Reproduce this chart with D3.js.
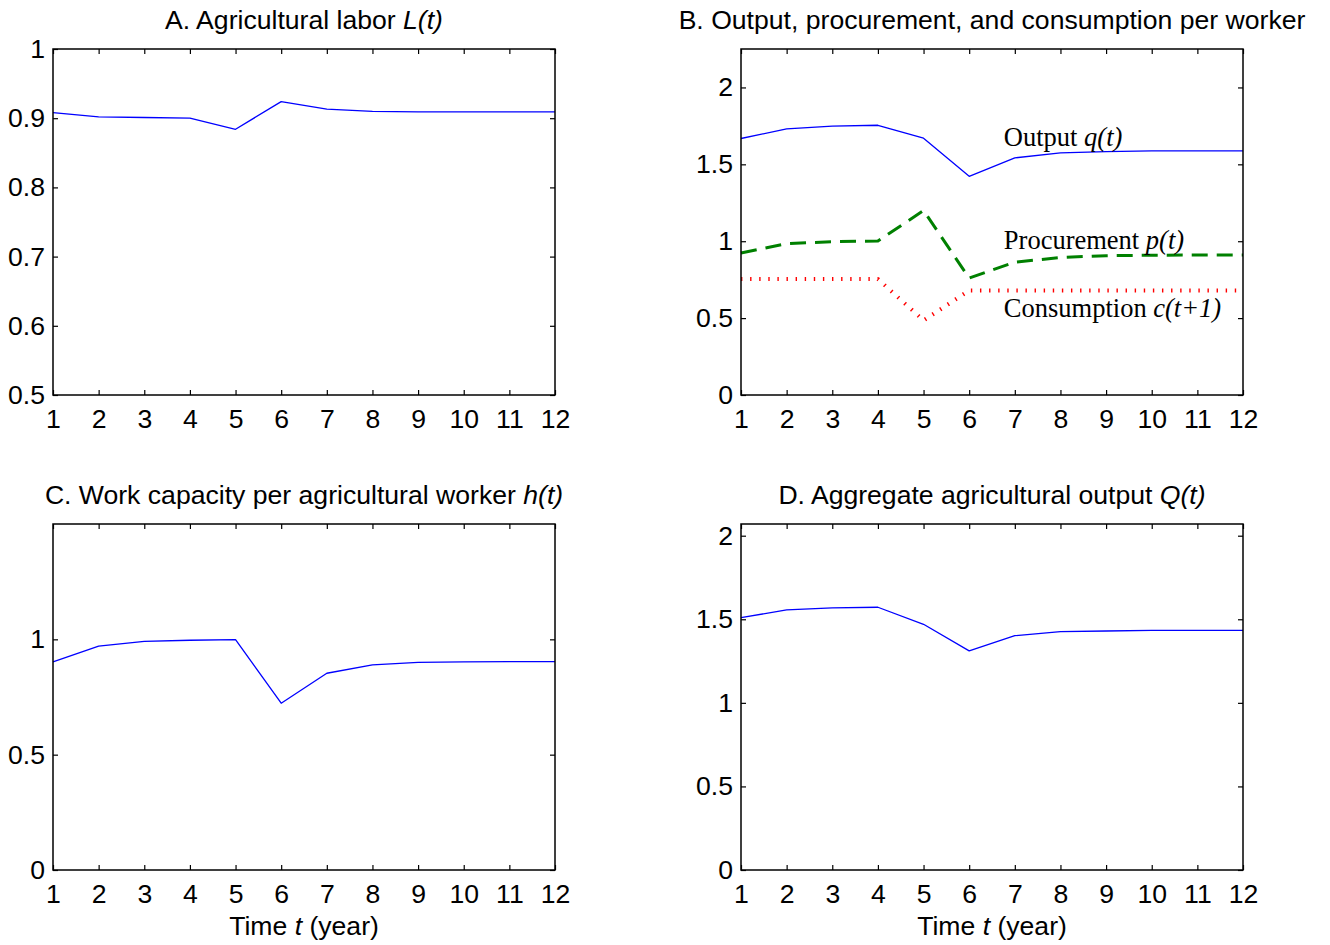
<!DOCTYPE html>
<html>
<head>
<meta charset="utf-8">
<script src="https://cdn.jsdelivr.net/npm/d3@7"></script>
<style>
  body { margin: 0; background: white; }
  text { font-family: "Liberation Sans", Arial, sans-serif; }
  .serif { font-family: "Liberation Serif", "Times New Roman", serif; }
</style>
</head>
<body>
<div id="vis-canvas"></div>
<script>
const outerWidth = 1330;
const outerHeight = 945;
const tickLen = 5;
const fontSize = 26.6;

// ** data
const years = [1, 2, 3, 4, 5, 6, 7, 8, 9, 10, 11, 12];
const laborL = [0.908, 0.902, 0.901, 0.900, 0.884, 0.924, 0.913, 0.910, 0.909, 0.909, 0.909, 0.909];
const outputQ = [1.668, 1.731, 1.748, 1.754, 1.670, 1.422, 1.542, 1.575, 1.583, 1.587, 1.588, 1.588];
const procureP = [0.923, 0.984, 0.997, 1.001, 1.200, 0.760, 0.864, 0.894, 0.906, 0.909, 0.910, 0.910];
const consumeC = [0.754, 0.754, 0.754, 0.754, 0.485, 0.680, 0.680, 0.680, 0.680, 0.680, 0.680, 0.680];
const workH = [0.902, 0.971, 0.991, 0.996, 0.999, 0.723, 0.853, 0.889, 0.900, 0.902, 0.903, 0.903];
const aggQ = [1.510, 1.556, 1.568, 1.572, 1.470, 1.311, 1.402, 1.426, 1.430, 1.433, 1.434, 1.434];

const ticksA = [0.5, 0.6, 0.7, 0.8, 0.9, 1];
const ticksB = [0, 0.5, 1, 1.5, 2];
const ticksC = [0, 0.5, 1];
const ticksD = [0, 0.5, 1, 1.5, 2];

const svg = d3.select("#vis-canvas").append("svg")
    .attr("width", outerWidth)
    .attr("height", outerHeight)
    .attr("viewBox", [0, 0, outerWidth, outerHeight]);

svg.append("rect").attr("width", outerWidth).attr("height", outerHeight).attr("fill", "white");

// panel frames (pixel boxes) - the two columns and two rows share edges
const cols = [[53, 555], [741, 1243]];
const rows = [[49, 395], [524, 870]];

const panels = [
    { col: 0, row: 0, domain: [0.5, 1], ticks: ticksA,
      title: ["A. Agricultural labor ", "L(t)"],
      series: [{ values: laborL, color: "#0000ff", width: 1.3 }] },
    { col: 1, row: 0, domain: [0, 2.25], ticks: ticksB,
      title: ["B. Output, procurement, and consumption per worker", ""],
      series: [
        { values: outputQ, color: "#0000ff", width: 1.3 },
        { values: procureP, color: "#008000", width: 3, dash: "16,9" },
        { values: consumeC, color: "#ff0000", width: 4, dash: "1.4,7.7" }
      ],
      notes: [
        { y: 146, text: ["Output ", "q(t)"] },
        { y: 249, text: ["Procurement ", "p(t)"] },
        { y: 317, text: ["Consumption ", "c(t+1)"] }
      ] },
    { col: 0, row: 1, domain: [0, 1.5], ticks: ticksC,
      title: ["C. Work capacity per agricultural worker ", "h(t)"],
      series: [{ values: workH, color: "#0000ff", width: 1.3 }],
      xlabel: true },
    { col: 1, row: 1, domain: [0, 2.07], ticks: ticksD,
      title: ["D. Aggregate agricultural output ", "Q(t)"],
      series: [{ values: aggQ, color: "#0000ff", width: 1.3 }],
      xlabel: true }
];

const fmt = d => String(+d.toFixed(2));

panels.forEach(drawPanel);

function drawPanel(p) {
    const [x0, x1] = cols[p.col];
    const [y0, y1] = rows[p.row];
    const x = d3.scaleLinear().domain([1, 12]).range([x0, x1]);
    const y = d3.scaleLinear().domain(p.domain).range([y1, y0]);
    const g = svg.append("g");

    // data lines
    p.series.forEach(s => {
        const line = d3.line()
            .x((d, i) => x(years[i]))
            .y(d => y(d));
        g.append("path")
            .datum(s.values)
            .attr("fill", "none")
            .attr("stroke", s.color)
            .attr("stroke-width", s.width)
            .attr("stroke-dasharray", s.dash || null)
            .attr("stroke-linejoin", "round")
            .attr("d", line);
    });

    // inward ticks on all four sides, like a boxed matlab axis
    const axisBottom = d3.axisBottom(x).tickValues(years).tickSize(-tickLen).tickPadding(14).tickFormat(d3.format("d"));
    const axisTop = d3.axisTop(x).tickValues(years).tickSize(-tickLen).tickFormat("");
    const axisLeft = d3.axisLeft(y).tickValues(p.ticks).tickSize(-tickLen).tickPadding(8).tickFormat(fmt);
    const axisRight = d3.axisRight(y).tickValues(p.ticks).tickSize(-tickLen).tickFormat("");

    [[axisBottom, `translate(0,${y1})`], [axisTop, `translate(0,${y0})`],
     [axisLeft, `translate(${x0},0)`], [axisRight, `translate(${x1},0)`]]
        .forEach(([ax, tr]) => {
            const a = g.append("g").attr("transform", tr).call(ax);
            a.select(".domain").remove();
            a.selectAll("line").attr("stroke", "black").attr("stroke-width", 1.2);
            a.selectAll("text")
                .attr("fill", "black")
                .style("font-size", fontSize + "px")
                .style("font-family", "'Liberation Sans', Arial, sans-serif");
        });

    g.append("rect")
        .attr("x", x0).attr("y", y0)
        .attr("width", x1 - x0).attr("height", y1 - y0)
        .attr("fill", "none")
        .attr("stroke", "black")
        .attr("stroke-width", 1.5);

    // title
    const title = g.append("text")
        .attr("x", (x0 + x1) / 2)
        .attr("y", y0 - 20)
        .attr("text-anchor", "middle")
        .style("font-size", fontSize + "px");
    title.append("tspan").text(p.title[0]);
    title.append("tspan").style("font-style", "italic").text(p.title[1]);

    if (p.xlabel) {
        const lab = g.append("text")
            .attr("x", (x0 + x1) / 2)
            .attr("y", y1 + 65)
            .attr("text-anchor", "middle")
            .style("font-size", fontSize + "px");
        lab.append("tspan").text("Time ");
        lab.append("tspan").style("font-style", "italic").text("t");
        lab.append("tspan").text(" (year)");
    }

    // in-plot labels (panel B only)
    (p.notes || []).forEach(n => {
        const t = g.append("text")
            .attr("class", "serif")
            .attr("x", x(7) - 11)
            .attr("y", n.y)
            .style("font-size", "26.5px");
        t.append("tspan").text(n.text[0]);
        t.append("tspan").style("font-style", "italic").text(n.text[1]);
    });
}
</script>
</body>
</html>
